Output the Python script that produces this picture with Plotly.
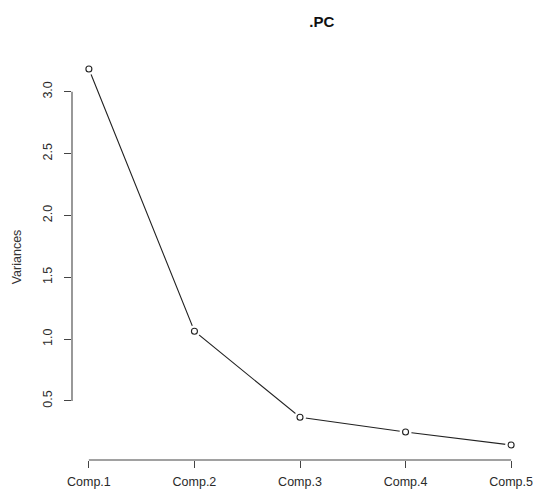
import plotly.graph_objects as go

# Variance of each principal component (scree plot)
components = ["Comp.1", "Comp.2", "Comp.3", "Comp.4", "Comp.5"]
variances = [3.184, 1.064, 0.368, 0.249, 0.144]
y_ticks = [0.5, 1.0, 1.5, 2.0, 2.5, 3.0]

idx = list(range(1, len(components) + 1))

# axis ranges padded by 4% of the data span
ypad = 0.04 * (max(variances) - min(variances))
xpad = 0.04 * (len(components) - 1)

ink = "#222222"
axis_col = "#444444"
font = "Liberation Sans, Arial, Helvetica, sans-serif"

fig = go.Figure()
# connecting line
fig.add_trace(go.Scatter(x=idx, y=variances, mode="lines",
                         line=dict(color=ink, width=1.1), hoverinfo="skip"))
# white halo leaves a small gap between the line and each point
fig.add_trace(go.Scatter(x=idx, y=variances, mode="markers",
                         marker=dict(size=12, color="white", line=dict(width=0)),
                         hoverinfo="skip"))
# open circle points
fig.add_trace(go.Scatter(x=idx, y=variances, mode="markers",
                         marker=dict(size=6, color="white", symbol="circle",
                                     line=dict(color=ink, width=1.1))))

fig.update_layout(
    width=535, height=493,
    margin=dict(l=72.4, r=7.4, t=53.9, b=33.3, autoexpand=False),
    paper_bgcolor="white", plot_bgcolor="white",
    showlegend=False,
    font=dict(family=font, size=12.5, color="#2a2a2a"),
    title=dict(text="<b>.PC</b>", x=293 / 535, xref="paper", xanchor="center",
               y=1 - 22 / 493, yanchor="middle", yref="container",
               font=dict(family=font, size=15, color="#111111")),
    xaxis=dict(range=[1 - xpad, len(components) + xpad],
               tickvals=idx, ticktext=components, automargin=False,
               showgrid=False, zeroline=False, showline=False,
               ticks="outside", ticklen=7, tickwidth=1, tickcolor=axis_col,
               ticklabelstandoff=3),
    yaxis=dict(range=[min(variances) - ypad, max(variances) + ypad],
               tickvals=y_ticks, tickformat=".1f", tickangle=-90, automargin=False,
               showgrid=False, zeroline=False, showline=False,
               ticks="outside", ticklen=7, tickwidth=1, tickcolor=axis_col,
               ticklabelstandoff=7,
               title=dict(text="Variances", standoff=16,
                          font=dict(family=font, size=12.5, color="#333333"))),
    shapes=[
        dict(type="line", xref="x", yref="paper", x0=idx[0], x1=idx[-1], y0=0, y1=0,
             line=dict(color=axis_col, width=1.1)),
        dict(type="line", xref="paper", yref="y", x0=0, x1=0, y0=y_ticks[0], y1=y_ticks[-1],
             line=dict(color=axis_col, width=1.1)),
    ],
)

fig.write_html("out.html")
